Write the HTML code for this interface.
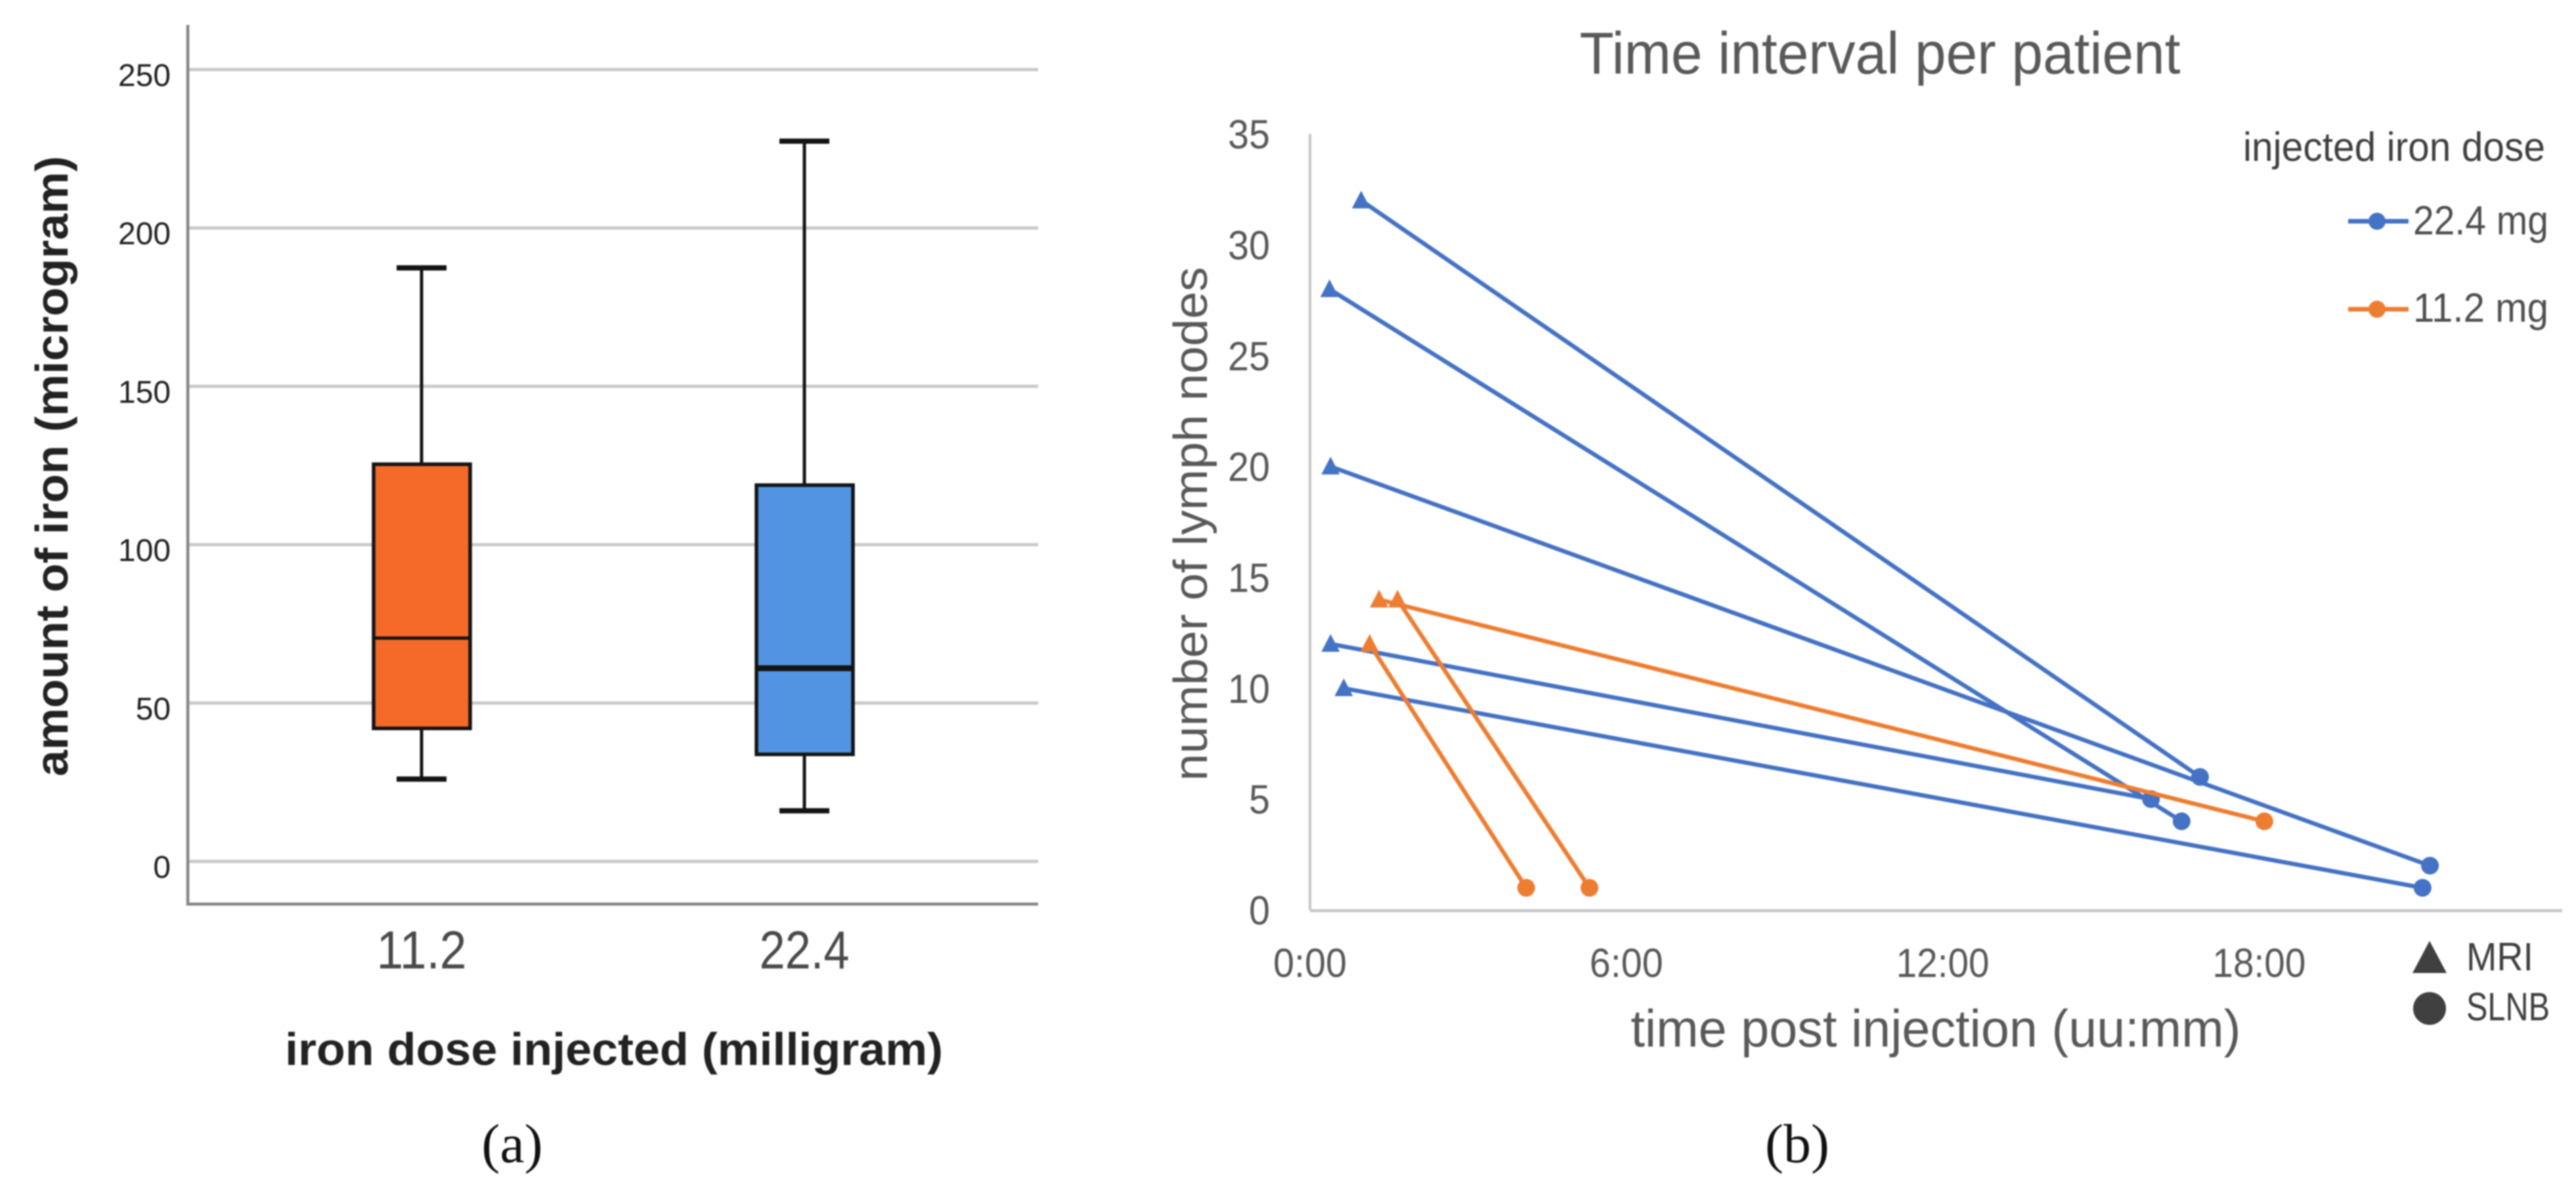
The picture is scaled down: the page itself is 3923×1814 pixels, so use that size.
<!DOCTYPE html>
<html lang="en">
<head>
<meta charset="utf-8">
<title>Iron dose charts</title>
<style>
html,body{margin:0;padding:0;background:#fff;}
svg{display:block;filter:blur(1px);}
text{font-family:"Liberation Sans",sans-serif;}
</style>
</head>
<body>
<svg id="fig" xmlns="http://www.w3.org/2000/svg" width="3923" height="1814" viewBox="0 0 3923 1814">
  <g id="panelA">
    <text transform="translate(103,710) rotate(-90)" text-anchor="middle" font-size="70" font-weight="bold" fill="#222" textLength="945" lengthAdjust="spacingAndGlyphs">amount of iron (microgram)</text>
    <text x="935" y="1622" text-anchor="middle" font-size="70" font-weight="bold" fill="#222" textLength="1002" lengthAdjust="spacingAndGlyphs">iron dose injected (milligram)</text>
    <text x="780" y="1770" text-anchor="middle" font-size="84" fill="#111" style="font-family:'Liberation Serif',serif">(a)</text>
  </g>
  <g id="panelB">
    <text x="2863" y="112" text-anchor="middle" font-size="90" fill="#595959" textLength="915" lengthAdjust="spacingAndGlyphs">Time interval per patient</text>
    <text transform="translate(1838,798) rotate(-90)" text-anchor="middle" font-size="72" fill="#595959" textLength="783" lengthAdjust="spacingAndGlyphs">number of lymph nodes</text>
    <text x="2948" y="1594" text-anchor="middle" font-size="80" fill="#595959" textLength="929" lengthAdjust="spacingAndGlyphs">time post injection (uu:mm)</text>
    <text x="2737" y="1770" text-anchor="middle" font-size="84" fill="#111" style="font-family:'Liberation Serif',serif">(b)</text>
    <g>
      <text x="3416" y="245" font-size="62" fill="#404040" textLength="460" lengthAdjust="spacingAndGlyphs">injected iron dose</text>
      <g>
        <line x1="3576" x2="3668" y1="337" y2="337" stroke="#4472C4" stroke-width="7"/>
        <circle cx="3620" cy="337" r="13" fill="#4472C4"/>
        <text x="3675" y="357" font-size="62" fill="#505050" textLength="206" lengthAdjust="spacingAndGlyphs">22.4 mg</text>
      </g>
      <g>
        <line x1="3576" x2="3668" y1="471" y2="471" stroke="#ED7D31" stroke-width="7"/>
        <circle cx="3620" cy="471" r="13" fill="#ED7D31"/>
        <text x="3675" y="490" font-size="62" fill="#505050" textLength="206" lengthAdjust="spacingAndGlyphs">11.2 mg</text>
      </g>
    </g>
    <g>
      <polygon points="3700,1433 3726,1482 3674,1482" fill="#404040"/>
      <text x="3756" y="1478" font-size="60" fill="#404040" textLength="102" lengthAdjust="spacingAndGlyphs">MRI</text>
      <ellipse cx="3700" cy="1536" rx="25" ry="25" fill="#404040"/>
      <text x="3756" y="1554" font-size="60" fill="#404040" textLength="127" lengthAdjust="spacingAndGlyphs">SLNB</text>
    </g>
  </g>
</svg>
<script>
// Panel (a) data
const boxCategories = ['11.2', '22.4'];
const boxWhiskerLow = [26, 16];
const boxQ1 = [42, 33.8];
const boxMedian = [70.5, 61];
const boxQ3 = [125.4, 118.8];
const boxWhiskerHigh = [187.4, 227.4];
const boxFills = ['#F56A28', '#5294E2'];
const boxTicks = [0, 50, 100, 150, 200, 250];

// Panel (b) data: one entry per patient
const patientDose = ['22.4', '22.4', '22.4', '22.4', '22.4', '11.2', '11.2', '11.2'];
const mriHours = [0.97, 0.37, 0.39, 0.39, 0.64, 1.13, 1.31, 1.66];
const mriNodes = [32, 28, 20, 12, 10, 12, 14, 14];
const slnbHours = [16.88, 16.53, 21.24, 15.95, 21.1, 4.1, 18.1, 5.3];
const slnbNodes = [6, 4, 2, 5, 1, 1, 4, 1];
const nodeTicks = [0, 5, 10, 15, 20, 25, 30, 35];
const timeTicks = [0, 6, 12, 18];

const NS = 'http://www.w3.org/2000/svg';
function make(parent, tag, attrs, content) {
  const el = document.createElementNS(NS, tag);
  for (const k in attrs) el.setAttribute(k, attrs[k]);
  if (content !== undefined) el.textContent = content;
  parent.appendChild(el);
  return el;
}

// ---------- Panel (a) ----------
const panelA = document.getElementById('panelA');
const ironY = v => 1312 - 4.824 * v;
const boxCenterX = i => 642 + i * 583;
const gridA = make(panelA, 'g', {});


boxTicks.forEach(t => {
  const ln = make(gridA, 'line', {x1: 288, x2: 1581, y1: ironY(t), y2: ironY(t), stroke: '#cacaca', 'stroke-width': 5});
  
  
  const lb = make(panelA, 'text', {x: 260, y: ironY(t) + 25, 'text-anchor': 'end', 'font-size': 48, fill: '#222'}, String(t));
  
  
});
const axA = make(panelA, 'path', {d: 'M286 38V1377H1581', fill: 'none', stroke: '#858585', 'stroke-width': 4.5});


boxCategories.forEach((c, i) => {
  const cx = boxCenterX(i);
  const g = make(panelA, 'g', {stroke: '#141414', fill: 'none'});
  
  
  const w1 = make(g, 'line', {x1: cx, x2: cx, y1: ironY(boxWhiskerHigh[i]), y2: ironY(boxQ3[i]), 'stroke-width': 5});
  
  
  const w2 = make(g, 'line', {x1: cx, x2: cx, y1: ironY(boxQ1[i]), y2: ironY(boxWhiskerLow[i]), 'stroke-width': 5});
  
  
  const c1 = make(g, 'line', {x1: cx - 38, x2: cx + 38, y1: ironY(boxWhiskerHigh[i]), y2: ironY(boxWhiskerHigh[i]), 'stroke-width': 8});
  
  
  const c2 = make(g, 'line', {x1: cx - 38, x2: cx + 38, y1: ironY(boxWhiskerLow[i]), y2: ironY(boxWhiskerLow[i]), 'stroke-width': 8});
  
  
  const r = make(g, 'rect', {x: cx - 73, y: ironY(boxQ3[i]), width: 147, height: ironY(boxQ1[i]) - ironY(boxQ3[i]), fill: boxFills[i], 'stroke-width': 5.5});
  
  
  const m = make(g, 'line', {x1: cx - 73, x2: cx + 73, y1: ironY(boxMedian[i]), y2: ironY(boxMedian[i]), 'stroke-width': i === 0 ? 5 : 9});
  
  
  const t = make(panelA, 'text', {x: cx, y: 1475, 'text-anchor': 'middle', 'font-size': 82, fill: '#4a4a4a', textLength: 137, lengthAdjust: 'spacingAndGlyphs'}, c);
  
  
});

// ---------- Panel (b) ----------
const panelB = document.getElementById('panelB');
const nodeY = v => 1386 - 33.77 * v;
const timeX = h => 1995 + 80.3 * h;
const axB = make(panelB, 'path', {d: 'M1995 204V1386', fill: 'none', stroke: '#c6c6c6', 'stroke-width': 4});


const axBx = make(panelB, 'path', {d: 'M1995 1387H3902', fill: 'none', stroke: '#c6c6c6', 'stroke-width': 4.5});


nodeTicks.forEach(t => {
  const s = String(t);
  const lb = make(panelB, 'text', {x: 1934, y: nodeY(t) + 22, 'text-anchor': 'end', 'font-size': 62, fill: '#595959', textLength: 32 * s.length, lengthAdjust: 'spacingAndGlyphs'}, s);
  
  
});
timeTicks.forEach(h => {
  const s = h + ':00';
  const lb = make(panelB, 'text', {x: timeX(h), y: 1488, 'text-anchor': 'middle', 'font-size': 62, fill: '#595959', textLength: 30 * (s.length - 1) + 22, lengthAdjust: 'spacingAndGlyphs'}, s);
  
  
});
patientDose.forEach((d, i) => {
  const col = d === '22.4' ? '#4472C4' : '#ED7D31';
  const x1 = timeX(mriHours[i]), y1 = nodeY(mriNodes[i]);
  const x2 = timeX(slnbHours[i]), y2 = nodeY(slnbNodes[i]);
  const g = make(panelB, 'g', {});
  
  
  const l = make(g, 'line', {x1: x1, y1: y1, x2: x2, y2: y2, stroke: col, 'stroke-width': 6.5});
  
  
  const tri = make(g, 'polygon', {points: (x1) + ',' + (y1 - 15) + ' ' + (x1 + 14) + ',' + (y1 + 12) + ' ' + (x1 - 14) + ',' + (y1 + 12), fill: col});
  
  
  const cir = make(g, 'circle', {cx: x2, cy: y2, r: 13.5, fill: col});
  
  
});
</script>
</body>
</html>
